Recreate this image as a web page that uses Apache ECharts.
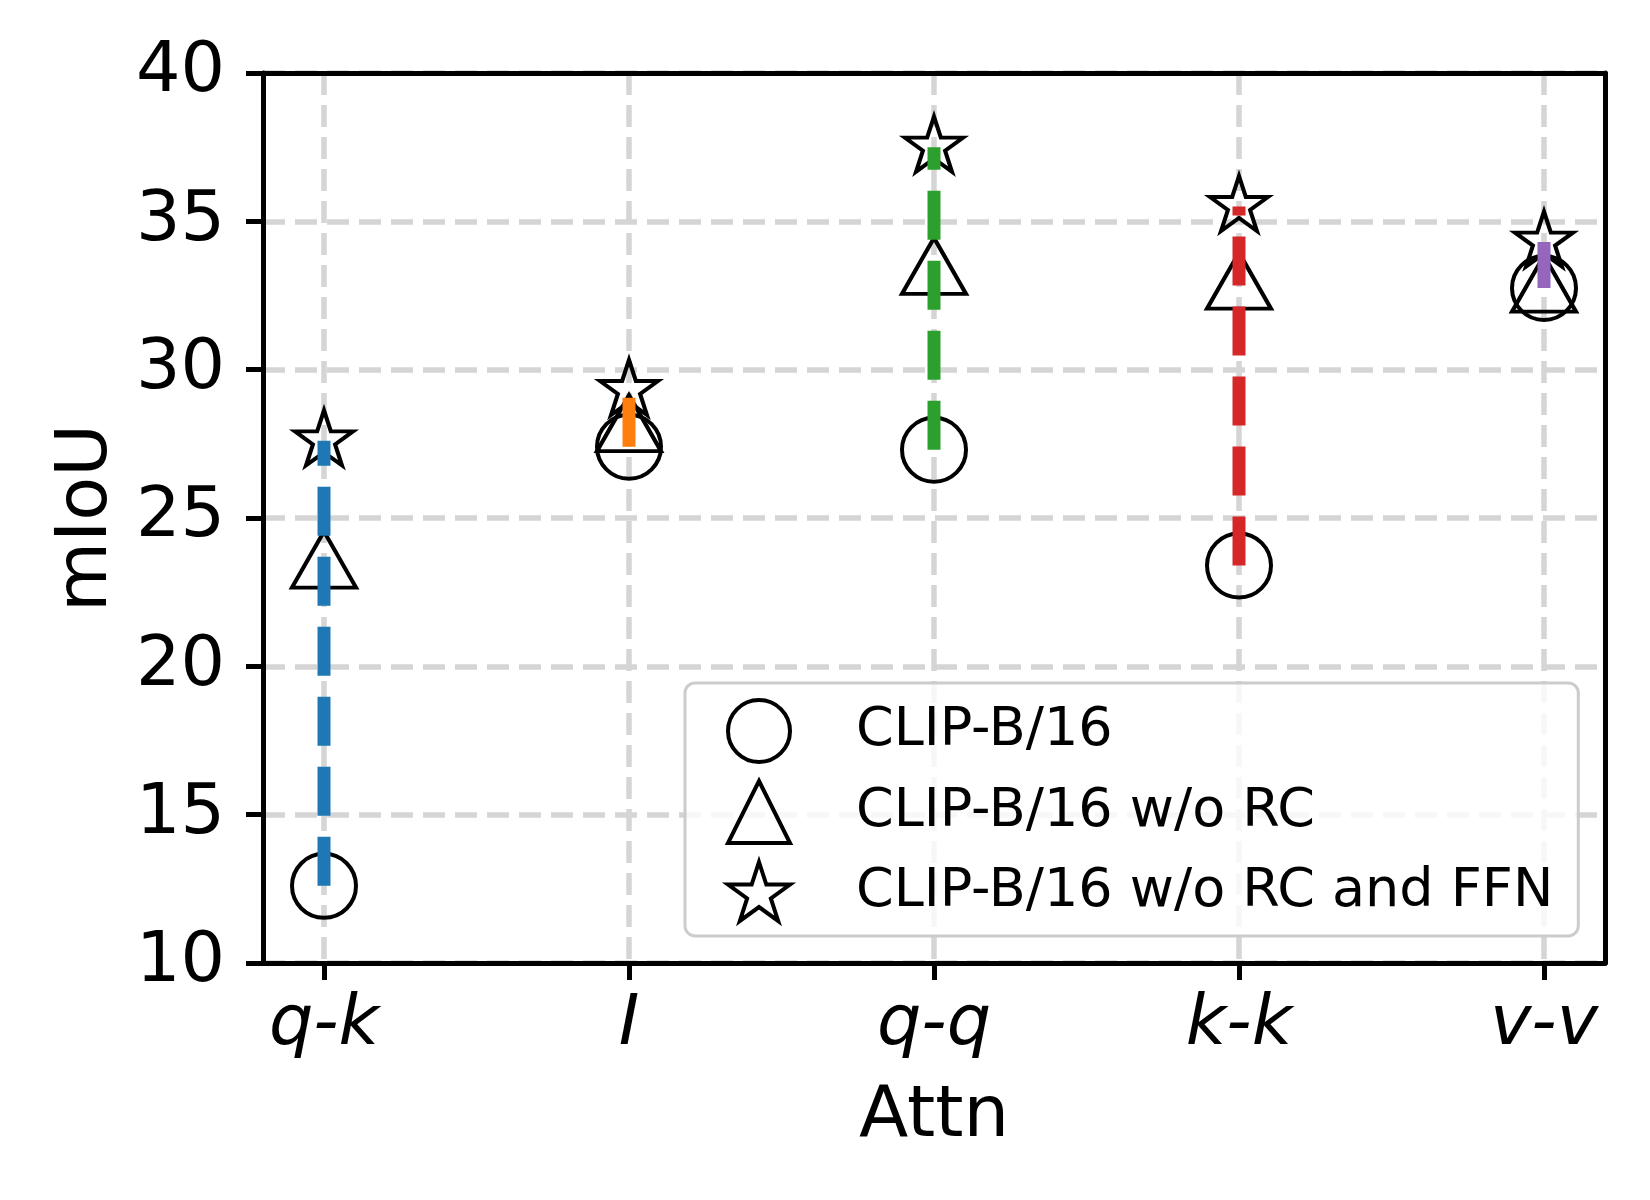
<!DOCTYPE html>
<html>
<head>
<meta charset="utf-8">
<script src="https://cdn.jsdelivr.net/npm/echarts@6/dist/echarts.min.js"></script>
<style>
html, body { margin: 0; background: #fff; }
#main { width: 1650px; height: 1200px; }
</style>
</head>
<body>
<div id="main"></div>
<script>
// attention variants on the x axis
var categories = ['q-k', 'I', 'q-q', 'k-k', 'v-v'];
var xTicks = [0, 1, 2, 3, 4];

// mIoU per variant
var clip = [12.6, 27.4, 27.3, 23.4, 32.75];
var clipNoRC = [23.6, 28.2, 33.5, 33.0, 32.9];
var clipNoRCFFN = [27.6, 29.3, 37.5, 35.5, 34.3];

var seriesNames = ['CLIP-B/16', 'CLIP-B/16 w/o RC', 'CLIP-B/16 w/o RC and FFN'];
var lineColors = ['#1f77b4', '#ff7f0e', '#2ca02c', '#d62728', '#9467bd'];

var font = 'DejaVu Sans';
var starPath = 'path://M0,-100L22.45,-30.9L95.11,-30.9L36.33,11.8L58.78,80.9L0,38.2L-58.78,80.9L-36.33,11.8L-95.11,-30.9L-22.45,-30.9Z';
var gridLine = { color: '#d5d5d5', width: 5.5, type: [22, 10] };
var frameLine = { color: '#000', width: 5 };

function toPoints(arr) {
	return arr.map(function (v, i) { return [i, v]; });
}

var markerStyle = { color: 'rgba(0,0,0,0)', borderColor: '#000', borderWidth: 4, opacity: 1 };

var series = [
	{ name: seriesNames[0], type: 'scatter', symbol: 'circle', symbolSize: [64, 64],
	  itemStyle: markerStyle, data: toPoints(clip), z: 2 },
	{ name: seriesNames[1], type: 'scatter', symbol: 'triangle', symbolSize: [64, 56],
	  itemStyle: markerStyle, data: toPoints(clipNoRC), z: 2 },
	{ name: seriesNames[2], type: 'scatter', symbol: starPath, symbolSize: [58, 55],
	  symbolOffset: [0, -3], itemStyle: markerStyle, data: toPoints(clipNoRCFFN), z: 2 }
];

// dashed bar from the CLIP value up to the w/o RC and FFN value
for (var i = 0; i < categories.length; i++) {
	series.push({
		type: 'line',
		data: [[i, clip[i]], [i, clipNoRCFFN[i]]],
		symbol: 'none',
		showSymbol: false,
		silent: true,
		z: 3,
		lineStyle: { color: lineColors[i], width: 13, type: [49, 21], cap: 'butt' }
	});
}

var myChart = echarts.init(document.getElementById('main'));
var option = {
	animation: false,
	backgroundColor: '#fff',
	grid: { left: 263, right: 45, top: 73, bottom: 237 },
	legend: {
		data: seriesNames,
		orient: 'vertical',
		left: 685,
		top: 683,
		padding: [15, 25, 13, 41],
		itemGap: 15,
		itemWidth: 62,
		itemHeight: 62,
		selectedMode: false,
		backgroundColor: 'rgba(255,255,255,0.8)',
		borderColor: '#cccccc',
		borderWidth: 3,
		borderRadius: 10,
		itemStyle: { color: 'rgba(0,0,0,0)', borderColor: '#000', borderWidth: 4, opacity: 1 },
		formatter: function (name) { return '{s|}' + name; },
		textStyle: {
			fontFamily: font, fontSize: 54, color: '#000', lineHeight: 62,
			rich: { s: { width: 61 } }
		}
	},
	xAxis: [{
		type: 'value',
		min: -0.2,
		max: 4.2,
		name: 'Attn',
		nameLocation: 'middle',
		nameGap: 118,
		nameTextStyle: { fontFamily: font, fontSize: 72, color: '#000' },
		axisLine: { show: true, onZero: false, lineStyle: frameLine },
		axisTick: { show: true, length: 17, lineStyle: frameLine, customValues: xTicks },
		axisLabel: {
			customValues: xTicks,
			margin: 28,
			fontFamily: font, fontSize: 70, fontStyle: 'italic', color: '#000',
			formatter: function (v) { return categories[Math.round(v)]; }
		},
		splitLine: { show: true, lineStyle: gridLine }
	}, {
		// top spine
		type: 'value', position: 'top', min: -0.2, max: 4.2,
		axisLine: { show: true, onZero: false, lineStyle: frameLine },
		axisTick: { show: false }, axisLabel: { show: false }, splitLine: { show: false }
	}],
	yAxis: [{
		type: 'value',
		min: 10,
		max: 40,
		interval: 5,
		name: 'mIoU',
		nameLocation: 'middle',
		nameGap: 140,
		nameTextStyle: { fontFamily: font, fontSize: 72, color: '#000' },
		axisLine: { show: true, onZero: false, lineStyle: frameLine },
		axisTick: { show: true, length: 17, lineStyle: frameLine },
		axisLabel: { margin: 38, fontFamily: font, fontSize: 70, color: '#000' },
		splitLine: { show: true, lineStyle: gridLine }
	}, {
		// right spine
		type: 'value', position: 'right', min: 10, max: 40, interval: 5,
		axisLine: { show: true, onZero: false, lineStyle: frameLine },
		axisTick: { show: false }, axisLabel: { show: false }, splitLine: { show: false }
	}],
	series: series
};
myChart.setOption(option);
</script>
</body>
</html>
